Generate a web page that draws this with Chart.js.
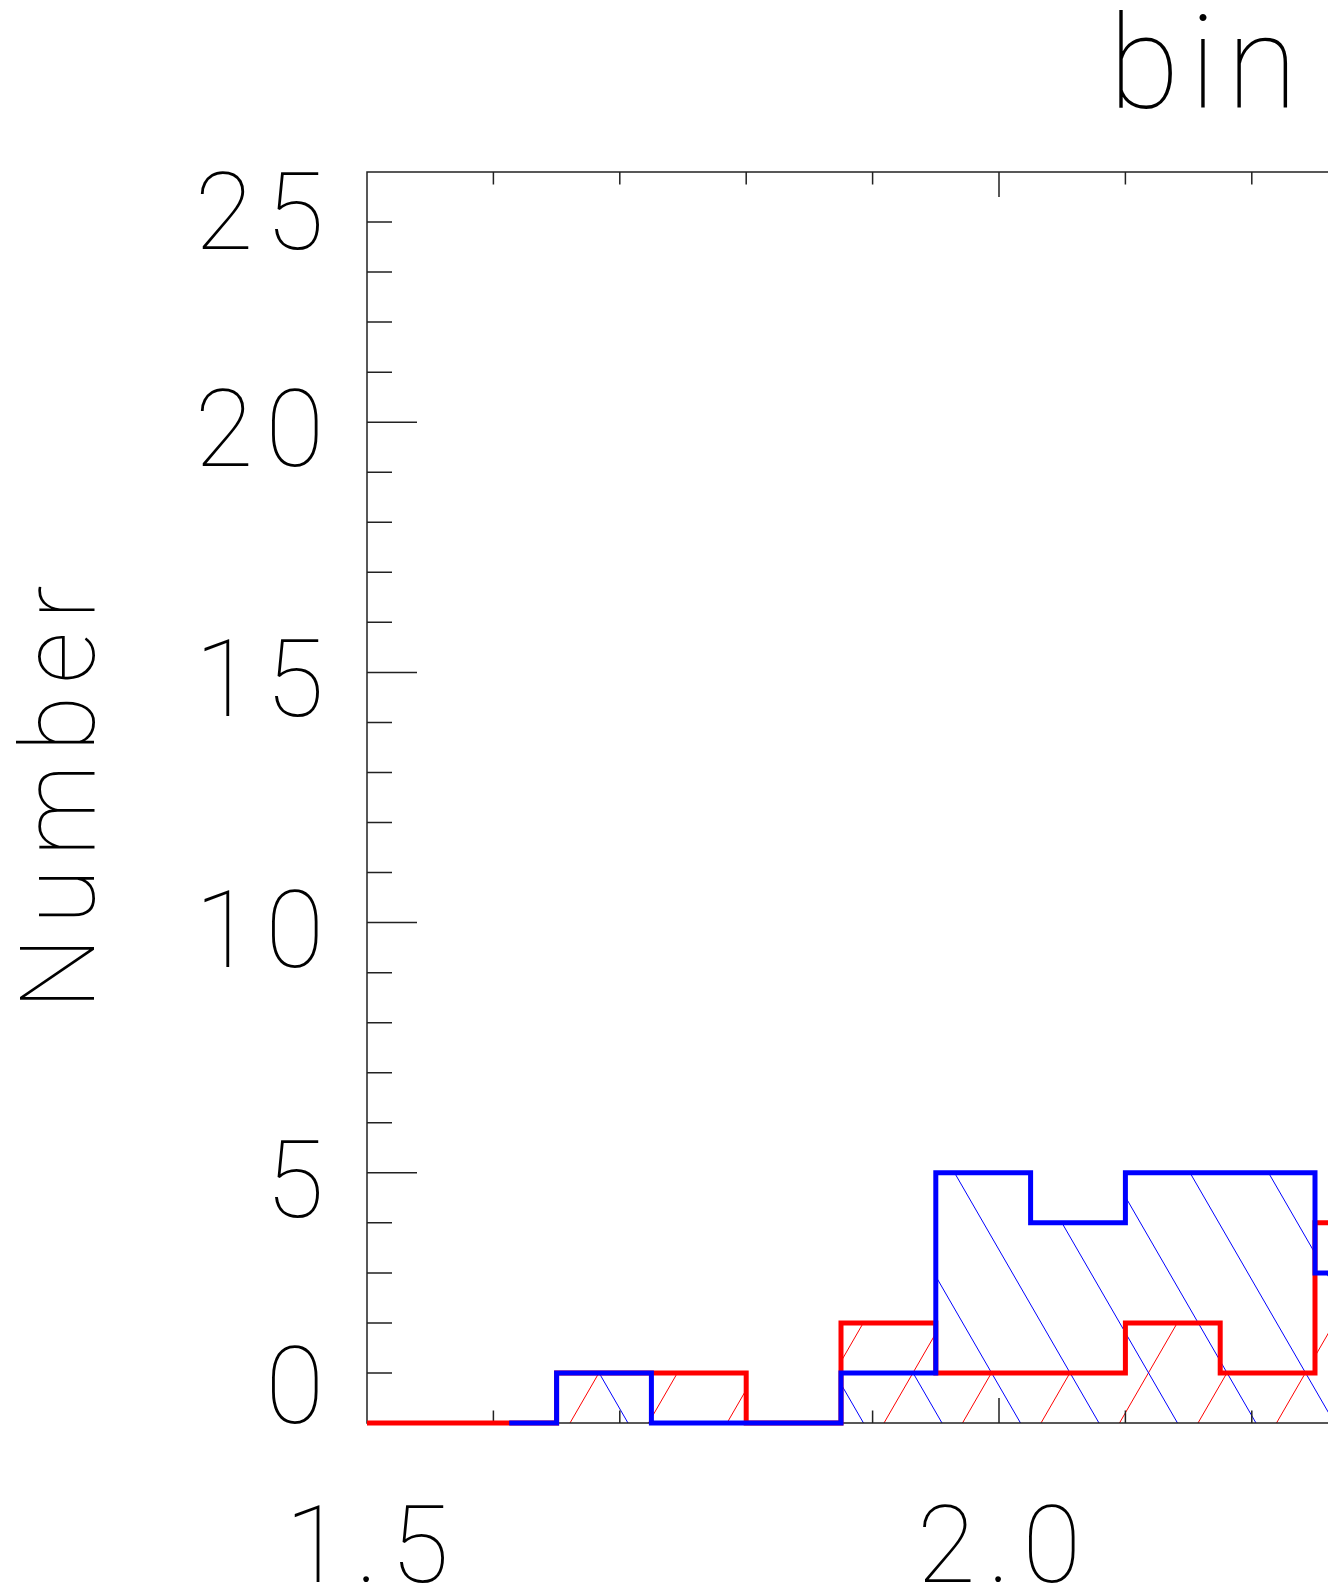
<!DOCTYPE html>
<html lang="en">
<head>
    <meta charset="UTF-8">
    <title>bin</title>
    <script src="https://cdn.jsdelivr.net/npm/chart.js"></script>
    <style>
        body, html {
            margin: 0;
            padding: 0;
            background: #fff;
            overflow: hidden;
        }
        #wrap {
            width: 1328px;
            height: 1596px;
            overflow: hidden;
            position: relative;
        }
        canvas {
            display: block;
        }
    </style>
</head>
<body>
    <div id="wrap">
        <canvas id="histChart" width="2406" height="1596"></canvas>
    </div>

    <script>
        // histogram bin centres (bin width 0.075)
        const binCenters = [1.4625, 1.5375, 1.6125, 1.6875, 1.7625, 1.8375, 1.9125, 1.9875, 2.0625, 2.1375, 2.2125, 2.2875];
        const redCounts  = [0, 0, 0, 1, 1, 0, 2, 1, 1, 2, 1, 4];
        const blueCounts = [null, null, 0, 1, 0, 0, 1, 5, 4, 5, 5, 3];

        const xMajorTicks = [1.5, 2.0, 2.5, 3.0];
        const xTickLabels = ['1.5', '2.0', '2.5', '3.0'];
        const yMajorTicks = [0, 5, 10, 15, 20, 25];
        const yTickLabels = ['0', '5', '10', '15', '20', '25'];

        const titleText = 'bin';
        const yTitleText = 'Number';

        const FONT = 'Roboto, "DejaVu Sans", sans-serif';
        const AXIS_COLOR = '#222';
        const SPACING = 12; // wide letter spacing for the thin labels

        function toPoints(values) {
            return binCenters.map((x, i) => ({ x: x, y: values[i] }));
        }

        // fill the area under a stepped histogram with slanted lines
        function hatch(chart, datasetIndex, color, slant, phase, spacing) {
            const ctx = chart.ctx;
            const area = chart.chartArea;
            const meta = chart.getDatasetMeta(datasetIndex);
            const values = chart.data.datasets[datasetIndex].data;
            const base = chart.scales.y.getPixelForValue(0);

            const pts = [];
            meta.data.forEach((p, i) => {
                if (values[i].y !== null && values[i].y !== undefined) pts.push(p);
            });
            if (pts.length === 0) return;

            ctx.save();
            ctx.beginPath();
            ctx.rect(area.left, area.top, area.right - area.left, area.bottom - area.top);
            ctx.clip();

            ctx.beginPath();
            ctx.moveTo(pts[0].x, base);
            for (let i = 0; i < pts.length; i++) {
                const p = pts[i];
                const xl = i === 0 ? p.x : (pts[i - 1].x + p.x) / 2;
                const xr = i === pts.length - 1 ? p.x : (p.x + pts[i + 1].x) / 2;
                ctx.lineTo(xl, p.y);
                ctx.lineTo(xr, p.y);
            }
            ctx.lineTo(pts[pts.length - 1].x, base);
            ctx.closePath();
            ctx.clip();

            const t = Math.tan(Math.PI / 6);
            const h = base - area.top;
            ctx.strokeStyle = color;
            ctx.lineWidth = 1;
            ctx.beginPath();
            let x0 = area.left + phase;
            while (x0 > area.left - h * t - spacing) x0 -= spacing;
            for (; x0 < area.right + h * t + spacing; x0 += spacing) {
                ctx.moveTo(x0, base);
                ctx.lineTo(x0 + slant * h * t, area.top);
            }
            ctx.stroke();
            ctx.restore();
        }

        const idlFrame = {
            id: 'idlFrame',
            beforeDatasetsDraw(chart) {
                const ctx = chart.ctx;
                const a = chart.chartArea;
                const xs = chart.scales.x;
                const ys = chart.scales.y;

                // hatching: red leans right, blue leans left
                hatch(chart, 1, '#ff0000', 1, 46, 78.5);
                hatch(chart, 0, '#0000ff', -1, 25.5, 78.5);

                ctx.save();
                ctx.strokeStyle = AXIS_COLOR;
                ctx.lineWidth = 1.5;
                ctx.beginPath();
                ctx.rect(a.left, a.top, a.right - a.left, a.bottom - a.top);

                // x ticks, bottom and top
                for (let v = xs.min; v <= xs.max + 1e-9; v += 0.1) {
                    const px = xs.getPixelForValue(v);
                    const major = xMajorTicks.some(m => Math.abs(m - v) < 1e-6);
                    const len = major ? 25 : 12.5;
                    ctx.moveTo(px, a.bottom);
                    ctx.lineTo(px, a.bottom - len);
                    ctx.moveTo(px, a.top);
                    ctx.lineTo(px, a.top + len);
                }
                // y ticks, left and right
                for (let v = ys.min; v <= ys.max; v += 1) {
                    const py = ys.getPixelForValue(v);
                    const len = yMajorTicks.includes(v) ? 50 : 25;
                    ctx.moveTo(a.left, py);
                    ctx.lineTo(a.left + len, py);
                    ctx.moveTo(a.right, py);
                    ctx.lineTo(a.right - len, py);
                }
                ctx.stroke();
                ctx.restore();
            },
            afterDraw(chart) {
                const ctx = chart.ctx;
                const a = chart.chartArea;
                const xs = chart.scales.x;
                const ys = chart.scales.y;
                const size = 107;
                const half = size * 0.711 / 2;

                ctx.save();
                ctx.fillStyle = '#000';
                ctx.font = '100 ' + size + 'px ' + FONT;
                ctx.letterSpacing = SPACING + 'px';
                ctx.textBaseline = 'alphabetic';

                // y tick labels, kept inside the frame at the ends
                ctx.textAlign = 'right';
                yMajorTicks.forEach((v, i) => {
                    let cy = ys.getPixelForValue(v) + 6;
                    cy = Math.max(a.top + half + 1, Math.min(a.bottom - half, cy));
                    ctx.fillText(yTickLabels[i], a.left - 43 + SPACING, cy + half);
                });

                // x tick labels
                ctx.textAlign = 'center';
                xMajorTicks.forEach((v, i) => {
                    ctx.fillText(xTickLabels[i], xs.getPixelForValue(v) + SPACING / 2, a.bottom + 159);
                });

                // y axis title
                ctx.save();
                ctx.font = '100 103px ' + FONT;
                ctx.translate(94, (a.top + a.bottom) / 2 - SPACING / 2);
                ctx.rotate(-Math.PI / 2);
                ctx.textAlign = 'center';
                ctx.fillText(yTitleText, 0, 0);
                ctx.restore();

                // main title
                ctx.font = '100 130px ' + FONT;
                ctx.letterSpacing = '10px';
                ctx.textAlign = 'center';
                ctx.fillText(titleText, chart.width / 2 + 5, 108);
                ctx.restore();
            }
        };

        const ctx = document.getElementById('histChart').getContext('2d');
        new Chart(ctx, {
            type: 'line',
            data: {
                datasets: [
                    {
                        label: 'blue',
                        data: toPoints(blueCounts),
                        borderColor: '#0000ff',
                        borderWidth: 5,
                        stepped: 'middle',
                        pointRadius: 0,
                        fill: false,
                        borderJoinStyle: 'miter',
                        borderCapStyle: 'butt',
                        clip: { left: 0, top: 5, right: 5, bottom: 5 }
                    },
                    {
                        label: 'red',
                        data: toPoints(redCounts),
                        borderColor: '#ff0000',
                        borderWidth: 5,
                        stepped: 'middle',
                        pointRadius: 0,
                        fill: false,
                        borderJoinStyle: 'miter',
                        borderCapStyle: 'butt',
                        clip: { left: 0, top: 5, right: 5, bottom: 5 }
                    }
                ]
            },
            options: {
                responsive: false,
                animation: false,
                devicePixelRatio: 1,
                layout: {
                    padding: { left: 367, top: 172, right: 143, bottom: 173 }
                },
                scales: {
                    x: { type: 'linear', min: 1.5, max: 3.0, display: false },
                    y: { type: 'linear', min: 0, max: 25, display: false }
                },
                plugins: {
                    legend: { display: false },
                    tooltip: { enabled: false }
                }
            },
            plugins: [idlFrame]
        });
    </script>
</body>
</html>
